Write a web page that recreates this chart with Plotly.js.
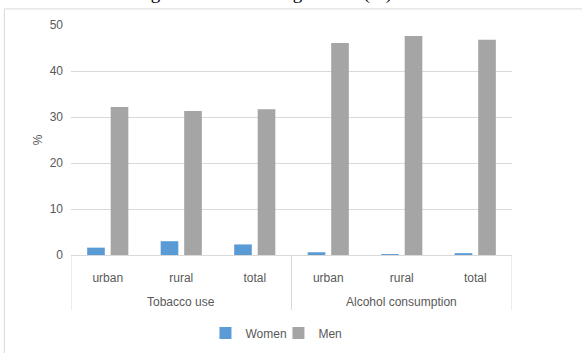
<!DOCTYPE html>
<html>
<head>
<meta charset="utf-8">
<script src="https://cdn.plot.ly/plotly-3.0.1.min.js"></script>
<style>
  html, body { margin: 0; padding: 0; background: #fff; }
  #chart { width: 582px; height: 353px; }
</style>
</head>
<body>
<div id="chart"></div>
<script>
// Prevalence of tobacco use and alcohol consumption by sex and residence (%)
var groups = ["Tobacco use", "Tobacco use", "Tobacco use",
              "Alcohol consumption", "Alcohol consumption", "Alcohol consumption"];
var areas = ["urban", "rural", "total", "urban", "rural", "total"];
var women = [1.6, 3.0, 2.3, 0.6, 0.2, 0.4];
var men = [32.2, 31.3, 31.7, 46.1, 47.6, 46.8];
var yTicks = [0, 10, 20, 30, 40, 50];

var labelFont = { family: "Liberation Sans, Arial, sans-serif", size: 12, color: "#595959" };
var lineGrey = "#D9D9D9";

// one slot per (group, area) pair along the x axis
var slots = areas.map(function (_, i) { return i; });

// group spans: first/last slot index for every distinct group
var groupNames = [];
var groupSpans = {};
groups.forEach(function (g, i) {
  if (!(g in groupSpans)) { groupNames.push(g); groupSpans[g] = [i, i]; }
  groupSpans[g][1] = i;
});

var traces = [
  { type: "bar", name: "Women", x: slots, y: women,
    marker: { color: "#5B9BD5" }, hoverinfo: "y" },
  { type: "bar", name: "Men", x: slots, y: men,
    marker: { color: "#A5A5A5" }, hoverinfo: "y" }
];

// group captions under the area labels
var annotations = groupNames.map(function (g) {
  return {
    xref: "x", yref: "paper", x: (groupSpans[g][0] + groupSpans[g][1]) / 2, y: -0.204,
    xanchor: "center", yanchor: "middle", showarrow: false, text: g, font: labelFont
  };
});
annotations.push({
  xref: "paper", yref: "paper", x: 0.436, y: 1.083, xanchor: "center", yanchor: "bottom",
  text: "Figure 2-6: Blood sugar level (%)", showarrow: false,
  font: { family: "Liberation Serif, Times New Roman, serif", size: 19, color: "#000" }
});

// dividers framing each group below the axis
var dividerX = [-0.5];
groupNames.forEach(function (g) { dividerX.push(groupSpans[g][1] + 0.5); });
var shapes = dividerX.map(function (xv) {
  return { type: "line", xref: "x", yref: "paper", x0: xv, x1: xv, y0: 0, y1: -0.239,
           line: { color: lineGrey, width: 1 } };
});
// outer chart frame (left and top edges)
shapes.push(
  { type: "line", xref: "paper", yref: "paper", x0: -0.151, x1: -0.151, y0: 1.07, y1: -0.5,
    line: { color: lineGrey, width: 1 } },
  { type: "line", xref: "paper", yref: "paper", x0: -0.151, x1: 1.2, y0: 1.07, y1: 1.07,
    line: { color: lineGrey, width: 1 } }
);

var layout = {
  width: 582, height: 353,
  margin: { l: 71, r: 70, t: 25, b: 98, autoexpand: false },
  paper_bgcolor: "#fff", plot_bgcolor: "#fff",
  font: labelFont,
  barmode: "group",
  bargap: 0.36,
  bargroupgap: 0.25,
  showlegend: true,
  legend: {
    orientation: "h", xref: "container", yref: "container",
    x: 0.353, xanchor: "left", y: 0.057, yanchor: "middle",
    font: labelFont, itemwidth: 30, entrywidth: 28, entrywidthmode: "pixels", tracegroupgap: 0
  },
  xaxis: {
    type: "linear", range: [-0.5, 5.5],
    tickvals: slots, ticktext: areas,
    showline: true, linecolor: lineGrey, linewidth: 1,
    ticks: "", tickfont: labelFont, ticklabelstandoff: 12, automargin: false,
    showgrid: false, zeroline: false
  },
  yaxis: {
    range: [0, 50], tickvals: yTicks, ticktext: yTicks.map(String),
    showgrid: true, gridcolor: lineGrey, gridwidth: 1,
    zeroline: false, showline: false, ticks: "", automargin: false,
    tickfont: labelFont, ticklabelstandoff: 7,
    title: { text: "%", font: labelFont, standoff: 4 }
  },
  annotations: annotations,
  shapes: shapes
};

Plotly.newPlot("chart", traces, layout, { displayModeBar: false, staticPlot: true });
</script>
</body>
</html>
